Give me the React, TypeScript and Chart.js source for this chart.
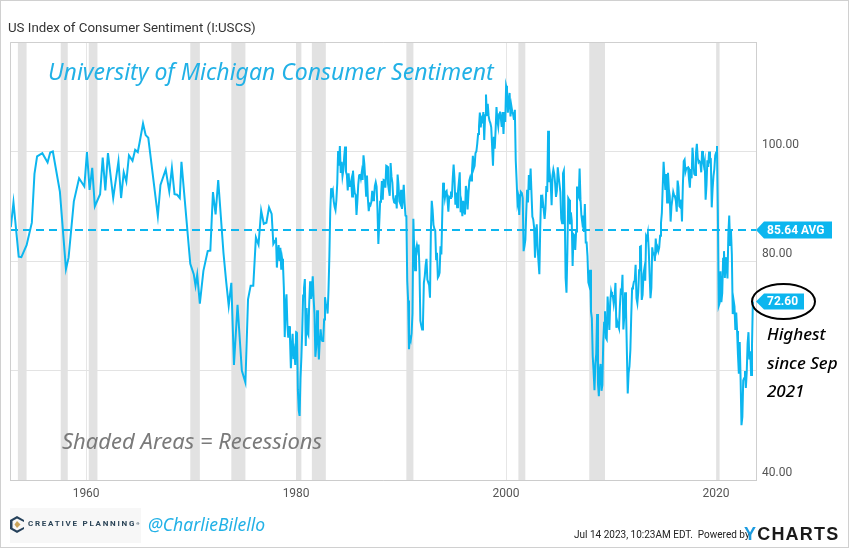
import React, { useEffect, useRef } from "react";
import { Chart, registerables } from "chart.js";

Chart.register(...registerables);

// ---------- DATA ----------
// Irregular / quarterly readings 1952-1977 (decimal year, index value)
const earlyYears = [
  1952.83, 1953.08, 1953.58, 1953.83, 1954.33, 1954.83, 1955.08, 1955.33, 1955.83,
  1956.33, 1956.58, 1956.83, 1957.5, 1958.08, 1958.33, 1958.83, 1959.33, 1959.83,
  1960.08, 1960.33, 1960.58, 1960.83, 1961.33, 1961.58, 1961.83, 1962.08, 1962.58,
  1963.08, 1963.33, 1963.58, 1963.83, 1964.08, 1964.42, 1964.67, 1964.92, 1965.08,
  1965.42, 1965.67, 1965.92, 1966.83, 1967.08, 1967.58, 1967.92, 1968.17, 1968.42,
  1968.67, 1968.92, 1969.08, 1969.92, 1970.25, 1970.42, 1970.58, 1970.83, 1971.17,
  1971.58, 1971.83, 1972.08, 1972.33, 1972.58, 1973.08, 1973.33, 1973.58, 1973.83,
  1974.08, 1974.42, 1974.83, 1975.17, 1975.42, 1975.67, 1975.92, 1976.17, 1976.42,
  1976.67, 1976.92, 1977.17, 1977.42, 1977.67, 1977.83,
];
const earlyValues = [
  86.2, 90.7, 80.8, 80.7, 82.9, 87.0, 95.9, 99.1, 99.7,
  98.0, 99.8, 100.0, 92.7, 78.5, 80.6, 90.9, 95.1, 93.6,
  99.9, 93.0, 97.0, 90.0, 92.2, 98.9, 92.9, 99.7, 91.5,
  98.2, 91.5, 96.2, 94.5, 99.3, 98.3, 100.3, 99.9, 101.5,
  105.1, 103.0, 102.5, 88.2, 93.9, 96.7, 92.7, 97.0, 92.2,
  92.1, 91.5, 98.1, 79.5, 77.6, 75.5, 77.5, 72.2, 78.2,
  81.8, 81.9, 92.6, 88.5, 94.8, 81.5, 76.4, 71.8, 76.0,
  61.0, 72.0, 60.0, 57.8, 73.0, 75.5, 75.5, 84.3, 83.0,
  89.2, 86.8, 87.0, 89.8, 88.6, 83.1,
];

// Monthly readings from January 1978
const monthlyStartYear = 1978;
const monthly1978to1984 = [
  83.7, 84.3, 78.8, 81.6, 82.9, 80.0, 82.4, 78.4, 80.4, 79.3, 75.0, 66.1,
  72.1, 73.9, 68.4, 66.0, 68.1, 65.8, 60.4, 64.5, 66.7, 62.1, 63.3, 61.0,
  67.0, 66.9, 56.5, 52.7, 51.7, 58.7, 62.3, 67.4, 73.7, 75.0, 76.7, 64.5,
  71.4, 66.9, 66.5, 72.4, 76.3, 73.1, 74.1, 77.2, 73.1, 70.3, 62.5, 64.3,
  71.0, 66.5, 62.0, 65.5, 67.5, 65.7, 65.4, 65.4, 69.3, 73.4, 72.1, 71.9,
  70.4, 74.6, 80.8, 89.1, 93.3, 92.2, 92.8, 90.9, 89.9, 89.3, 91.1, 94.2,
  100.1, 97.4, 101.0, 96.1, 98.1, 95.5, 96.6, 99.1, 100.9, 96.3, 95.7, 92.9,
];
const monthly1985to1991 = [
  96.0, 93.7, 93.7, 94.6, 91.8, 96.5, 94.0, 92.4, 92.1, 88.4, 90.9, 93.9,
  95.6, 95.9, 95.1, 96.2, 94.8, 99.3, 97.7, 94.9, 91.9, 95.6, 91.4, 89.1,
  90.4, 90.2, 90.8, 92.8, 91.1, 91.5, 93.7, 94.4, 93.6, 89.3, 83.1, 86.8,
  90.8, 91.6, 94.6, 91.2, 94.8, 94.7, 93.4, 97.4, 97.3, 94.1, 93.0, 91.9,
  97.9, 95.4, 94.3, 91.5, 90.7, 90.6, 92.0, 89.6, 95.8, 93.9, 90.9, 90.5,
  93.0, 89.5, 91.3, 93.9, 90.6, 88.3, 88.2, 76.4, 72.8, 63.9, 66.0, 65.5,
  66.8, 70.4, 87.7, 81.8, 78.3, 82.1, 82.9, 82.0, 83.0, 78.3, 69.1, 68.2,
];
const monthly1992to1998 = [
  67.5, 68.8, 76.0, 77.2, 79.2, 80.4, 76.6, 76.1, 75.6, 73.3, 85.3, 91.0,
  89.3, 86.6, 85.9, 85.6, 80.3, 81.5, 77.0, 77.3, 77.9, 82.7, 81.2, 88.2,
  94.3, 93.2, 91.5, 92.6, 92.8, 91.2, 89.0, 91.7, 91.5, 92.7, 91.6, 95.1,
  97.6, 95.1, 90.3, 92.5, 89.8, 92.7, 94.4, 96.2, 88.9, 90.2, 88.2, 91.0,
  89.3, 88.5, 93.7, 92.7, 89.4, 92.4, 94.7, 95.3, 94.7, 96.5, 99.2, 96.9,
  97.4, 99.7, 100.0, 101.4, 103.2, 104.5, 107.1, 104.4, 106.0, 105.6, 107.2, 102.1,
  106.6, 110.4, 106.5, 108.7, 106.5, 105.6, 105.2, 104.4, 100.9, 97.4, 102.7, 100.5,
];
const monthly1999to2005 = [
  103.9, 108.1, 105.7, 104.6, 106.8, 107.3, 106.0, 104.5, 107.2, 103.2, 107.2, 105.4,
  112.0, 111.3, 107.1, 109.2, 110.7, 106.4, 108.3, 107.3, 106.8, 105.8, 107.6, 98.4,
  94.7, 90.6, 91.5, 88.4, 92.0, 92.6, 92.4, 91.5, 81.8, 82.7, 83.9, 88.8,
  93.0, 90.7, 95.7, 93.0, 96.9, 92.4, 88.1, 87.6, 86.1, 80.6, 84.2, 86.7,
  82.4, 79.9, 77.6, 86.0, 92.1, 89.7, 90.9, 89.3, 87.7, 89.6, 93.7, 92.6,
  103.8, 94.4, 95.8, 94.2, 90.2, 95.6, 96.7, 95.9, 94.2, 91.7, 92.8, 97.1,
  95.5, 94.1, 92.6, 87.7, 86.9, 96.0, 96.5, 89.1, 76.9, 74.2, 81.6, 91.5,
];
const monthly2006to2012 = [
  91.2, 86.7, 88.9, 87.4, 79.1, 84.9, 84.7, 82.0, 85.4, 93.6, 92.1, 91.7,
  96.9, 91.3, 88.4, 87.1, 88.3, 85.3, 90.4, 83.4, 83.4, 80.9, 76.1, 75.5,
  78.4, 70.8, 69.5, 62.6, 59.8, 56.4, 61.2, 63.0, 70.3, 57.6, 55.3, 60.1,
  61.2, 56.3, 57.3, 65.1, 68.7, 70.8, 66.0, 65.7, 73.5, 70.6, 67.4, 72.5,
  74.4, 73.6, 73.6, 72.2, 73.6, 76.0, 67.8, 68.9, 68.2, 67.7, 71.6, 74.5,
  74.2, 77.5, 67.5, 69.8, 74.3, 71.5, 63.7, 55.8, 59.5, 60.8, 63.7, 69.9,
  75.0, 75.3, 76.2, 76.4, 79.3, 73.2, 72.3, 74.3, 78.3, 82.6, 82.7, 72.9,
];
const monthly2013to2019 = [
  73.8, 77.6, 78.6, 76.4, 84.5, 84.1, 85.1, 82.1, 77.5, 73.2, 75.1, 82.5,
  81.2, 81.6, 80.0, 84.1, 81.9, 82.5, 81.8, 82.5, 84.6, 86.9, 88.8, 93.6,
  98.1, 95.4, 93.0, 95.9, 90.7, 96.1, 93.1, 91.9, 87.2, 90.0, 91.3, 92.6,
  92.0, 91.7, 91.0, 89.0, 94.7, 93.5, 90.0, 89.8, 91.2, 87.2, 93.8, 98.2,
  98.5, 96.3, 96.9, 97.0, 97.1, 95.0, 93.4, 96.8, 95.1, 100.7, 98.5, 95.9,
  95.7, 99.7, 101.4, 98.8, 98.0, 98.2, 97.9, 96.2, 100.1, 98.6, 97.5, 98.3,
  91.2, 93.8, 98.4, 97.2, 100.0, 98.2, 98.4, 89.8, 93.2, 95.5, 96.8, 99.3,
];
const monthly2020to2023 = [
  99.8, 101.0, 89.1, 71.8, 72.3, 78.1, 72.5, 74.1, 80.4, 81.8, 76.9, 80.7,
  79.0, 76.8, 84.9, 88.3, 82.9, 85.5, 81.2, 70.3, 72.8, 71.7, 67.4, 70.6,
  67.2, 62.8, 59.4, 65.2, 58.4, 50.0, 51.5, 58.2, 58.6, 59.9, 56.8, 59.7,
  64.9, 67.0, 62.0, 63.5, 59.2, 64.4, 72.6,
];

// NBER recessions (start, end) in decimal years
const recessionStarts = [1953.5, 1957.58, 1960.25, 1969.92, 1973.83, 1980.0, 1981.5, 1990.5, 2001.17, 2007.92, 2020.08];
const recessionEnds = [1954.33, 1958.25, 1961.08, 1970.83, 1975.17, 1980.5, 1982.83, 1991.17, 2001.83, 2009.42, 2020.33];

const averageValue = 85.64;
const lastValue = 72.6;
const xTickYears = [1960, 1980, 2000, 2020];
const hiddenYTicks = [60, 120];

// ---------- STYLE ----------
const LINE_BLUE = "#0cb6ef";
const TEXT_BLUE = "#22b1e6";

const bandsPlugin = {
  id: "bands",
  beforeDatasetsDraw(chart: any) {
    const { ctx, chartArea, scales } = chart;
    const xs = scales.x;
    ctx.save();
    ctx.fillStyle = "#e2e2e2";
    recessionStarts.forEach((s, i) => {
      const x1 = xs.getPixelForValue(s);
      const x2 = xs.getPixelForValue(recessionEnds[i]);
      ctx.fillRect(x1, chartArea.top, Math.max(1, x2 - x1), chartArea.bottom - chartArea.top);
    });
    ctx.restore();
  },
};

function arrowLabel(ctx: any, tipX: number, cy: number, w: number, h: number, text: string) {
  ctx.save();
  ctx.fillStyle = LINE_BLUE;
  ctx.beginPath();
  ctx.moveTo(tipX, cy);
  ctx.lineTo(tipX + 8, cy - h / 2);
  ctx.lineTo(tipX + w, cy - h / 2);
  ctx.lineTo(tipX + w, cy + h / 2);
  ctx.lineTo(tipX + 8, cy + h / 2);
  ctx.closePath();
  ctx.fill();
  ctx.fillStyle = "#ffffff";
  ctx.font = "bold 12px Roboto";
  ctx.textBaseline = "middle";
  ctx.textAlign = "left";
  ctx.fillText(text, tipX + 11, cy + 0.5);
  ctx.restore();
}

const overlayPlugin = {
  id: "overlay",
  afterDatasetsDraw(chart: any) {
    const { ctx, chartArea, scales } = chart;
    const ys = scales.y;
    const yAvg = ys.getPixelForValue(averageValue);
    ctx.save();
    ctx.strokeStyle = LINE_BLUE;
    ctx.lineWidth = 2;
    ctx.setLineDash([8, 5]);
    ctx.beginPath();
    ctx.moveTo(chartArea.left, yAvg);
    ctx.lineTo(chartArea.right, yAvg);
    ctx.stroke();
    ctx.restore();
  },
  afterDraw(chart: any) {
    const { ctx, chartArea, scales } = chart;
    const ys = scales.y;
    ctx.save();
    ctx.strokeStyle = "#cfcfcf";
    ctx.lineWidth = 1;
    ctx.beginPath();
    ctx.moveTo(chartArea.left + 0.5, chartArea.bottom);
    ctx.lineTo(chartArea.left + 0.5, chartArea.top + 0.5);
    ctx.lineTo(chartArea.right + 0.5, chartArea.top + 0.5);
    ctx.lineTo(chartArea.right + 0.5, chartArea.bottom);
    ctx.stroke();
    ctx.restore();

    const yAvg = ys.getPixelForValue(averageValue);
    arrowLabel(ctx, chartArea.right, yAvg, 76, 17, averageValue.toFixed(2) + " AVG");
    const yLast = ys.getPixelForValue(lastValue);
    arrowLabel(ctx, chartArea.right, yLast, 48, 16, lastValue.toFixed(2));

    ctx.save();
    ctx.strokeStyle = "#000000";
    ctx.lineWidth = 2;
    ctx.beginPath();
    ctx.ellipse(chartArea.right + 27.5, yLast, 31.5, 17.5, 0, 0, Math.PI * 2);
    ctx.stroke();
    ctx.restore();
  },
};

function buildPoints() {
  const pts: { x: number; y: number }[] = [];
  earlyYears.forEach((yr, i) => pts.push({ x: yr, y: earlyValues[i] }));
  const monthly = [
    ...monthly1978to1984,
    ...monthly1985to1991,
    ...monthly1992to1998,
    ...monthly1999to2005,
    ...monthly2006to2012,
    ...monthly2013to2019,
    ...monthly2020to2023,
  ];
  monthly.forEach((v, i) => pts.push({ x: monthlyStartYear + i / 12, y: v }));
  return pts;
}

const handFont = "'Noto Sans', sans-serif";

export default function App() {
  const canvasRef = useRef<HTMLCanvasElement | null>(null);

  useEffect(() => {
    if (!canvasRef.current) return;
    const chart = new Chart(canvasRef.current, {
      type: "line",
      data: {
        datasets: [
          {
            data: buildPoints(),
            borderColor: LINE_BLUE,
            borderWidth: 2,
            pointRadius: 0,
            tension: 0,
            fill: false,
          },
        ],
      },
      options: {
        responsive: false,
        animation: false,
        parsing: false as any,
        layout: { padding: { left: 10, top: 42, right: 0, bottom: 0 } },
        plugins: {
          legend: { display: false },
          tooltip: { enabled: false },
          title: { display: false },
        },
        scales: {
          x: {
            type: "linear",
            min: 1952.75,
            max: 2023.8,
            afterFit: (s: any) => {
              s.height = 68;
            },
            afterBuildTicks: (s: any) => {
              s.ticks = xTickYears.map((v) => ({ value: v }));
            },
            grid: { color: "#e6e6e6", drawTicks: false, lineWidth: 1 },
            border: { display: true, color: "#cccccc" },
            ticks: {
              padding: 7,
              color: "#555555",
              font: { family: "Roboto", size: 12 },
              maxRotation: 0,
              callback: (v: any) => String(v),
            },
          },
          y: {
            position: "right",
            min: 40,
            max: 120,
            afterFit: (s: any) => {
              s.width = 94;
            },
            grid: { color: "#e3e3e3", drawTicks: false, lineWidth: 1 },
            border: { display: true, color: "#cccccc" },
            ticks: {
              stepSize: 20,
              padding: 6,
              labelOffset: -7,
              color: "#555555",
              font: { family: "Roboto", size: 12 },
              callback: (v: any) => (hiddenYTicks.includes(v) ? "" : Number(v).toFixed(2)),
            },
          },
        },
      },
      plugins: [bandsPlugin, overlayPlugin],
    });
    return () => chart.destroy();
  }, []);

  return (
    <div style={{ position: "absolute", left: 0, top: 0, width: 850, height: 548, background: "#fff", overflow: "hidden" }}>
      <canvas ref={canvasRef} width={850} height={548} style={{ position: "absolute", left: 0, top: 0 }} />
      <div style={{ position: "absolute", left: 0, top: 0, width: 847, height: 546, border: "1px solid #d0d0d0", pointerEvents: "none" }} />
      <div style={{ position: "absolute", left: 8, top: 20, fontFamily: "Roboto", fontSize: 13.3, lineHeight: "15px", color: "#333", whiteSpace: "nowrap" }}>
        US Index of Consumer Sentiment (I:USCS)
      </div>
      <div style={{ position: "absolute", left: 48, top: 58, fontFamily: handFont, fontStyle: "italic", fontSize: 23, lineHeight: "26px", color: TEXT_BLUE, whiteSpace: "nowrap" }}>
        University of Michigan Consumer Sentiment
      </div>
      <div style={{ position: "absolute", left: 62, top: 427, fontFamily: handFont, fontStyle: "italic", fontSize: 22, lineHeight: "26px", color: "#7a7a7a", whiteSpace: "nowrap" }}>
        Shaded Areas = Recessions
      </div>
      <div style={{ position: "absolute", left: 767, top: 320, fontFamily: handFont, fontStyle: "italic", fontWeight: 500, fontSize: 17, lineHeight: "28.5px", color: "#000", whiteSpace: "nowrap", background: "#fff", paddingRight: 4 }}>
        Highest<br />since Sep<br />2021
      </div>
      <div style={{ position: "absolute", left: 10, top: 508, width: 131, height: 35, background: "#f7f7f7" }} />
      <svg style={{ position: "absolute", left: 10, top: 516 }} width={14} height={17} viewBox="0 0 14 17">
        <path d="M7 0 L14 4 L14 6 L7 2.5 L2.5 5 L2.5 12 L7 14.5 L14 11 L14 13 L7 17 L0 13 L0 4 Z" fill="#24405a" />
        <path d="M7 5 L10.5 8.5 L7 12 L4.5 8.5 Z" fill="#c9a35a" />
      </svg>
      <div style={{ position: "absolute", left: 28, top: 519, fontFamily: "Roboto", fontWeight: 700, fontSize: 8, lineHeight: "10px", letterSpacing: 1.75, color: "#2b4457", whiteSpace: "nowrap" }}>
        CREATIVE PLANNING<span style={{ fontSize: 4, verticalAlign: "top", letterSpacing: 0 }}>®</span>
      </div>
      <div style={{ position: "absolute", left: 148, top: 512, fontFamily: handFont, fontStyle: "italic", fontSize: 17.5, lineHeight: "24px", color: TEXT_BLUE, whiteSpace: "nowrap" }}>
        @CharlieBilello
      </div>
      <div style={{ position: "absolute", left: 574, top: 528, fontFamily: "Roboto", fontSize: 10, lineHeight: "14px", color: "#222", whiteSpace: "nowrap" }}>
        Jul 14 2023, 10:23AM EDT.&nbsp; Powered by
      </div>
      <div style={{ position: "absolute", left: 744, top: 524, fontFamily: "'Liberation Sans', Arial, sans-serif", fontWeight: 700, fontSize: 18, lineHeight: "20px", letterSpacing: 1.2, color: "#1a1a1a", whiteSpace: "nowrap" }}>
        <span style={{ color: "#1b9be0" }}>Y</span>CHARTS
      </div>
    </div>
  );
}
